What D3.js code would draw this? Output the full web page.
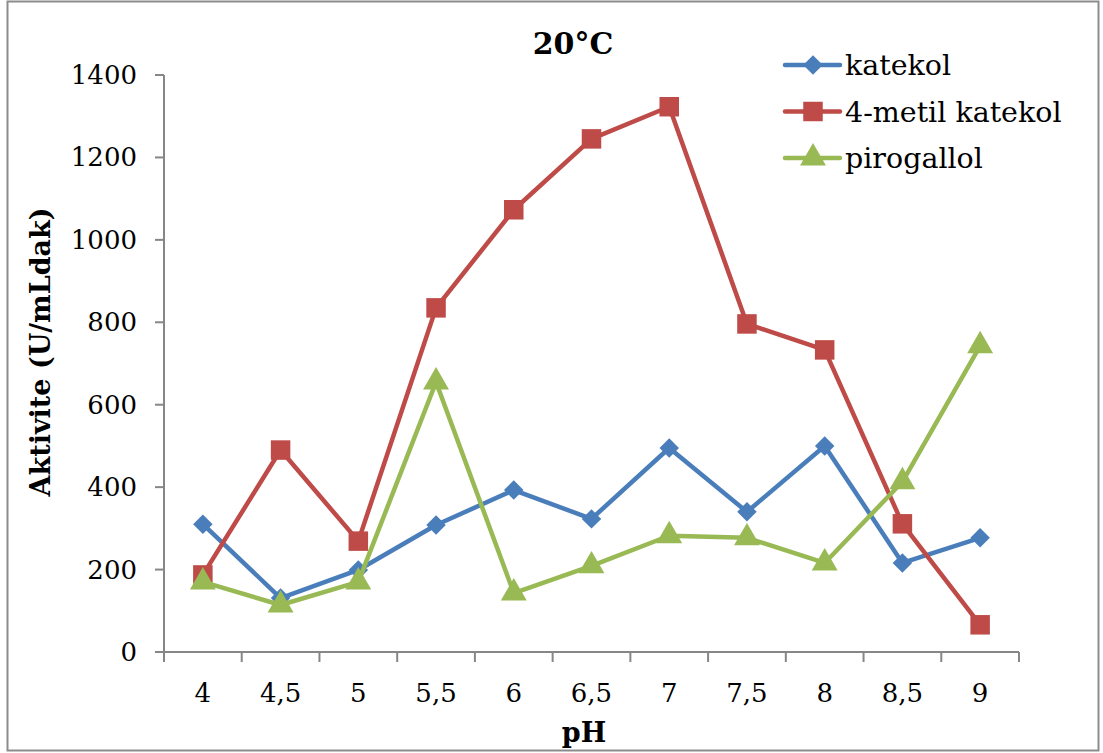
<!DOCTYPE html>
<html>
<head>
<meta charset="utf-8">
<script src="https://cdn.jsdelivr.net/npm/d3@7"></script>
<style>
  body { margin: 0; background: #fff; }
  text { font-family: "DejaVu Serif", "Liberation Serif", serif; }
</style>
</head>
<body>
<div id="chart"></div>
<script>
const phLabels = ["4", "4,5", "5", "5,5", "6", "6,5", "7", "7,5", "8", "8,5", "9"];
const katekol = [310, 131, 199, 308, 393, 323, 495, 340, 500, 216, 277];
const metilKatekol = [187, 490, 269, 835, 1073, 1245, 1323, 796, 733, 311, 66];
const pirogallol = [170, 114, 170, 655, 143, 209, 282, 277, 216, 413, 743];
const yTicks = [0, 200, 400, 600, 800, 1000, 1200, 1400];

const series = [
    { name: "katekol", values: katekol, color: "#4A7EBB", symbol: d3.symbolSquare, size: 190, rot: 45 },
    { name: "4-metil katekol", values: metilKatekol, color: "#BE4B48", symbol: d3.symbolSquare, size: 380, rot: 0 },
    { name: "pirogallol", values: pirogallol, color: "#98B954", symbol: d3.symbolTriangle, size: 290, rot: 0 }
];

const W = 1103, H = 753;
const margin = { top: 75, right: 84, bottom: 101, left: 164 },
    width = W - margin.left - margin.right,
    height = H - margin.top - margin.bottom;

const svg = d3.select("#chart")
    .append("svg")
    .attr("width", W)
    .attr("height", H);

// outer frame
svg.append("rect")
    .attr("x", 7.5).attr("y", 1.5)
    .attr("width", 1091).attr("height", 749)
    .attr("fill", "none")
    .attr("stroke", "#8c8c8c")
    .attr("stroke-width", 2);

const g = svg.append("g")
    .attr("transform", "translate(" + margin.left + "," + margin.top + ")");

const x = d3.scaleBand()
    .domain(phLabels)
    .range([0, width]);

const y = d3.scaleLinear()
    .domain([0, 1400])
    .range([height, 0]);

// x axis: ticks between categories
const xAxis = g.append("g")
    .attr("transform", "translate(0," + height + ")");
xAxis.append("line")
    .attr("x1", -8).attr("x2", width)
    .attr("stroke", "#868686").attr("stroke-width", 2);
const edges = phLabels.map(d => x(d)).concat([width]);
xAxis.selectAll(".xt")
    .data(edges)
    .enter()
    .append("line")
    .attr("x1", d => d).attr("x2", d => d)
    .attr("y1", 0).attr("y2", 10)
    .attr("stroke", "#868686").attr("stroke-width", 2);
xAxis.selectAll(".xl")
    .data(phLabels)
    .enter()
    .append("text")
    .attr("x", d => x(d) + x.bandwidth() / 2)
    .attr("y", 50)
    .attr("text-anchor", "middle")
    .style("font-size", "26px")
    .text(d => d);

// y axis
const yAxis = g.append("g");
yAxis.append("line")
    .attr("y1", 0).attr("y2", height + 8)
    .attr("stroke", "#868686").attr("stroke-width", 2);
yAxis.selectAll(".yt")
    .data(yTicks)
    .enter()
    .append("line")
    .attr("x1", -9).attr("x2", 0)
    .attr("y1", d => y(d)).attr("y2", d => y(d))
    .attr("stroke", "#868686").attr("stroke-width", 2);
yAxis.selectAll(".yl")
    .data(yTicks)
    .enter()
    .append("text")
    .attr("x", -27)
    .attr("y", d => y(d) + 9)
    .attr("text-anchor", "end")
    .style("font-size", "26px")
    .text(d => d);

// lines and markers
const line = d3.line()
    .x((d, i) => x(phLabels[i]) + x.bandwidth() / 2)
    .y(d => y(d));

series.forEach(s => {
    g.append("path")
        .datum(s.values)
        .attr("d", line)
        .attr("fill", "none")
        .attr("stroke", s.color)
        .attr("stroke-width", 4.5)
        .attr("stroke-linejoin", "round");

    g.append("g")
        .selectAll("path")
        .data(s.values)
        .enter()
        .append("path")
        .attr("d", d3.symbol().type(s.symbol).size(s.size))
        .attr("transform", (d, i) => "translate(" + (x(phLabels[i]) + x.bandwidth() / 2) + "," + y(d) + ") rotate(" + s.rot + ")")
        .attr("fill", s.color);
});

// title
svg.append("text")
    .attr("x", 573)
    .attr("y", 54)
    .attr("text-anchor", "middle")
    .style("font-size", "30px")
    .style("font-weight", "bold")
    .text("20°C");

// axis titles
svg.append("text")
    .attr("x", 584)
    .attr("y", 742)
    .attr("text-anchor", "middle")
    .style("font-size", "27px")
    .style("font-weight", "bold")
    .text("pH");

svg.append("text")
    .attr("transform", "translate(50,352) rotate(-90)")
    .attr("text-anchor", "middle")
    .style("font-size", "27px")
    .style("font-weight", "bold")
    .text("Aktivite (U/mLdak)");

// legend
const legend = svg.append("g")
    .attr("transform", "translate(785,65)");
series.forEach((s, i) => {
    const row = legend.append("g")
        .attr("transform", "translate(0," + (i * 46.5) + ")");
    row.append("line")
        .attr("x1", 0).attr("x2", 55)
        .attr("stroke", s.color)
        .attr("stroke-width", 4.5)
        .attr("stroke-linecap", "round");
    row.append("path")
        .attr("d", d3.symbol().type(s.symbol).size(s.size))
        .attr("transform", "translate(28,0) rotate(" + s.rot + ")")
        .attr("fill", s.color);
    row.append("text")
        .attr("x", 60)
        .attr("y", 10)
        .style("font-size", "28.5px")
        .text(s.name);
});
</script>
</body>
</html>
